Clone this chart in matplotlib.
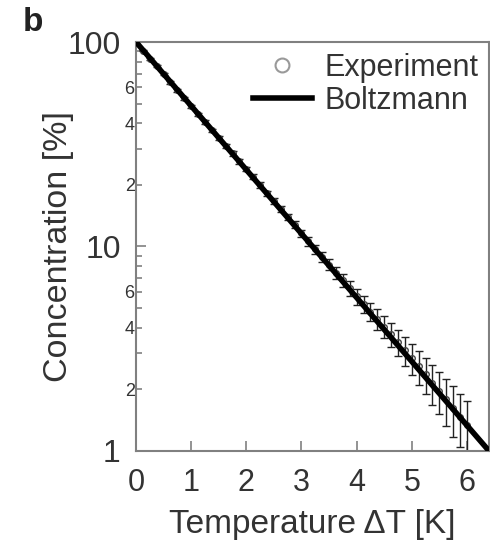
import numpy as np
import matplotlib
matplotlib.use("Agg")
import matplotlib.pyplot as plt
from matplotlib.ticker import FixedLocator, FuncFormatter
from matplotlib.lines import Line2D

plt.rcParams['font.family'] = ['Liberation Sans', 'DejaVu Sans']

# Experiment data
exp_dT = [0.0, 0.125, 0.25, 0.375, 0.5, 0.625, 0.75, 0.875, 1.0, 1.125, 1.25, 1.375,
          1.5, 1.625, 1.75, 1.875, 2.0, 2.125, 2.25, 2.375, 2.5, 2.625, 2.75, 2.875,
          3.0, 3.125, 3.25, 3.375, 3.5, 3.625, 3.75, 3.875, 4.0, 4.125, 4.25, 4.375,
          4.5, 4.625, 4.75, 4.875, 5.0, 5.125, 5.25, 5.375, 5.5, 5.625, 5.75, 5.875, 6.0]
exp_conc = [99.5, 90.8, 83.0, 76.0, 69.5, 63.4, 58.0, 53.0, 48.5, 44.3, 40.6, 37.0,
            34.0, 31.0, 28.5, 26.1, 23.9, 21.9, 20.0, 18.2, 16.7, 15.3, 13.9, 12.8,
            11.6, 10.6, 9.7, 8.9, 8.15, 7.45, 6.85, 6.25, 5.70, 5.25, 4.80, 4.42,
            4.05, 3.72, 3.40, 3.10, 2.84, 2.59, 2.38, 2.16, 1.97, 1.79, 1.62, 1.47, 1.34]
exp_err = [0.9, 0.9, 0.9, 0.9, 0.85, 0.85, 0.8, 0.8, 0.8, 0.75, 0.75, 0.7,
           0.7, 0.7, 0.65, 0.65, 0.6, 0.6, 0.6, 0.55, 0.55, 0.55, 0.5, 0.5,
           0.5, 0.5, 0.5, 0.5, 0.5, 0.5, 0.5, 0.5, 0.5, 0.5, 0.5, 0.5,
           0.5, 0.5, 0.5, 0.5, 0.5, 0.5, 0.48, 0.48, 0.46, 0.46, 0.45, 0.43, 0.42]

# Boltzmann fit line endpoints
fit_dT = [0.0, 6.4]
fit_conc = [100.0, 1.0]

x_ticks = [0, 1, 2, 3, 4, 5, 6]
y_major = [1, 10, 100]

fig = plt.figure(figsize=(4.9, 5.42), dpi=100)
ax = fig.add_axes([0.2776, 0.168, 0.7204, 0.7545])

txt = '#333333'
spine = '#808080'

ax.errorbar(exp_dT, exp_conc, yerr=exp_err, fmt='o', ms=4, mfc='none', mec='#444444',
            mew=1.0, ecolor='#222222', elinewidth=1.0, capsize=3, capthick=1.0,
            zorder=2)
ax.plot(fit_dT, fit_conc, color='black', lw=4, zorder=3, solid_capstyle='butt')

ax.set_yscale('log')
ax.set_xlim(0, 6.4)
ax.set_ylim(1, 100)

ax.set_xticks(x_ticks)
ax.set_xticklabels([str(t) for t in x_ticks])
ax.yaxis.set_major_locator(FixedLocator(y_major))
ax.yaxis.set_major_formatter(FuncFormatter(lambda v, p: f"{int(round(v))}"))
minor = [m * d for d in (1, 10) for m in range(2, 10)]
ax.yaxis.set_minor_locator(FixedLocator(minor))

def minor_fmt(v, p):
    lead = int(round(v / (10 ** np.floor(np.log10(v) + 1e-9))))
    return str(lead) if lead in (2, 4, 6) else ''
ax.yaxis.set_minor_formatter(FuncFormatter(minor_fmt))

ax.tick_params(axis='both', which='major', direction='in', length=7, width=1.2,
               color=spine, labelcolor=txt)
ax.tick_params(axis='x', which='major', labelsize=22, pad=12)
ax.tick_params(axis='y', which='major', labelsize=23, pad=11)
ax.tick_params(axis='y', which='minor', direction='in', length=4, width=1.2,
               color=spine, labelsize=13, labelcolor=txt, pad=1)
ax.tick_params(top=False, right=False)

for s in ax.spines.values():
    s.set_color(spine)
    s.set_linewidth(1.5)

ax.set_xlabel('Temperature ΔT [K]', fontsize=24, color=txt, labelpad=8)
ax.set_ylabel('Concentration [%]', fontsize=24.5, color=txt, labelpad=-5)

handles = [Line2D([], [], ls='none', marker='o', ms=10, mfc='none', mec='#999999', mew=1.5),
           Line2D([], [], color='black', lw=4)]
leg = ax.legend(handles, ['Experiment', 'Boltzmann'], loc='upper right', frameon=False,
                fontsize=22, handlelength=1.95, borderaxespad=0.0, borderpad=0.35,
                labelspacing=0.1, handletextpad=0.4, labelcolor=txt)

fig.text(0.047, 0.958, 'b', fontsize=24, fontweight='bold', color='#222222',
         ha='left', va='center')

fig.savefig('out.png', dpi=100)
